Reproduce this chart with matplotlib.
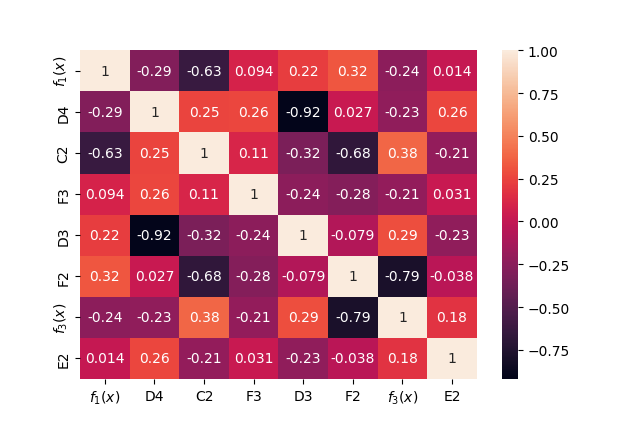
import matplotlib
matplotlib.use("Agg")
import matplotlib.pyplot as plt
import seaborn as sns
import numpy as np

labels = [r"$f_1(x)$", "D4", "C2", "F3", "D3", "F2", r"$f_3(x)$", "E2"]
row_f1 = [1, -0.29, -0.63, 0.094, 0.22, 0.32, -0.24, 0.014]
row_d4 = [-0.29, 1, 0.25, 0.26, -0.92, 0.027, -0.23, 0.26]
row_c2 = [-0.63, 0.25, 1, 0.11, -0.32, -0.68, 0.38, -0.21]
row_f3 = [0.094, 0.26, 0.11, 1, -0.24, -0.28, -0.21, 0.031]
row_d3 = [0.22, -0.92, -0.32, -0.24, 1, -0.079, 0.29, -0.23]
row_f2 = [0.32, 0.027, -0.68, -0.28, -0.079, 1, -0.79, -0.038]
row_f3x = [-0.24, -0.23, 0.38, -0.21, 0.29, -0.79, 1, 0.18]
row_e2 = [0.014, 0.26, -0.21, 0.031, -0.23, -0.038, 0.18, 1]

data = np.array([row_f1, row_d4, row_c2, row_f3, row_d3, row_f2, row_f3x, row_e2])

fig, ax = plt.subplots(figsize=(6.4, 4.27), dpi=100)
sns.heatmap(data, annot=True, xticklabels=labels, yticklabels=labels, ax=ax)
plt.setp(ax.get_yticklabels(), rotation=90, va="center")
fig.savefig("out.png", dpi=100)
